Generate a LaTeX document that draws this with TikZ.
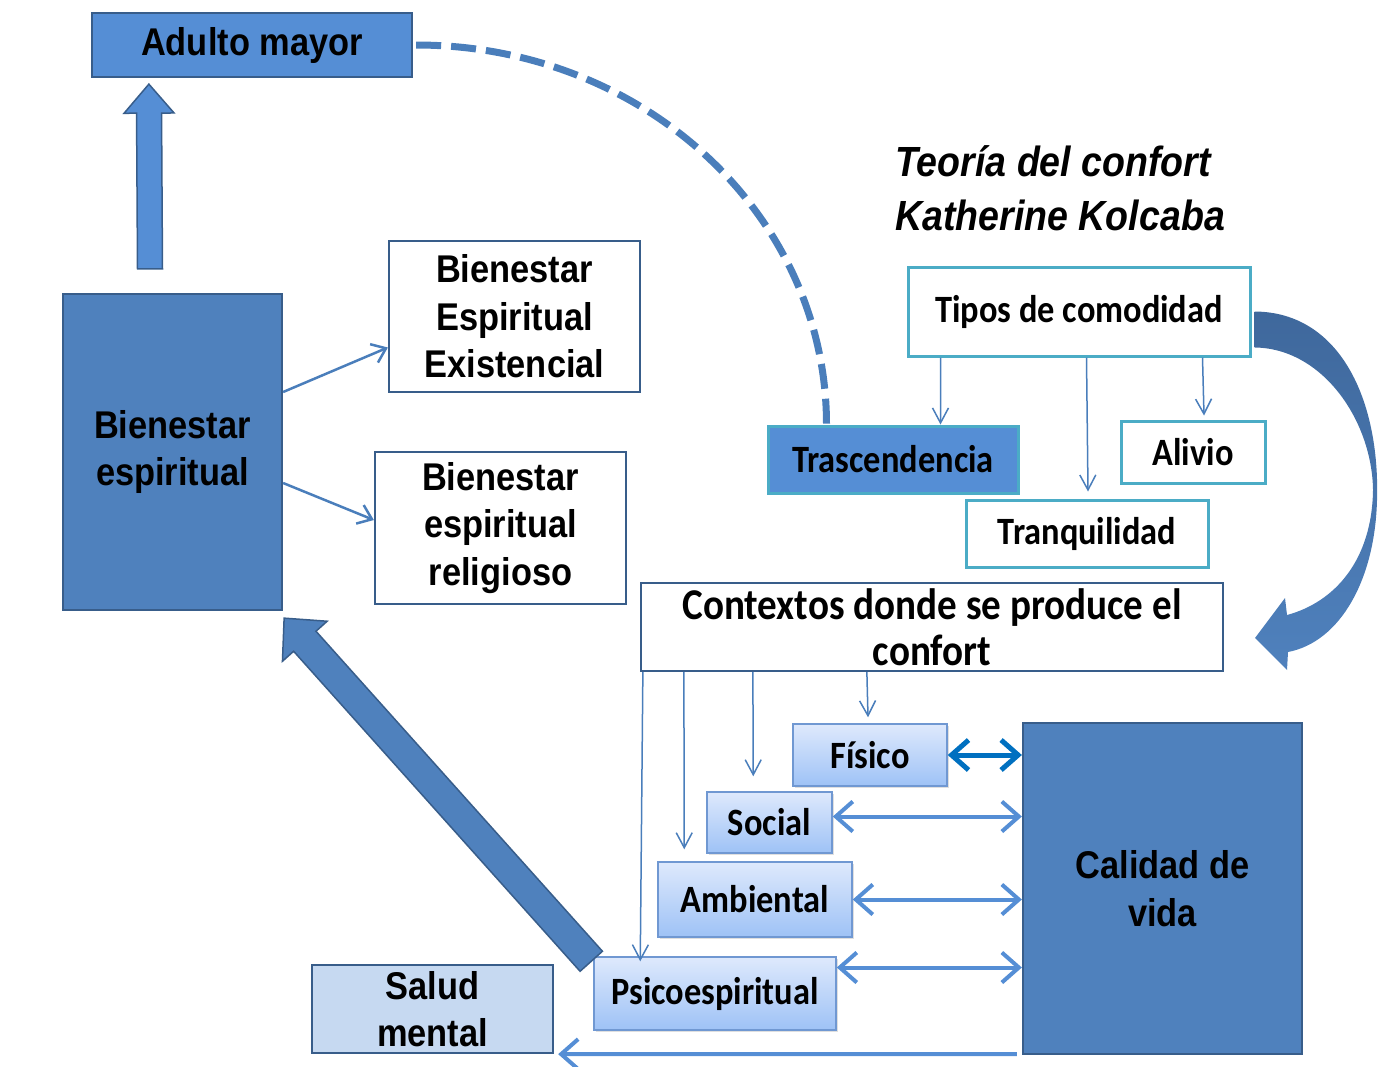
\documentclass[tikz,border=0pt]{standalone}
\usepackage{fontspec}
\setmainfont{Liberation Sans}[FakeStretch=0.89]
\newfontfamily\calibri{Carlito}[FakeStretch=0.89]
\usetikzlibrary{arrows.meta,calc,shadows}

\definecolor{azul}{RGB}{85,142,213}
\definecolor{azulosc}{RGB}{79,129,189}
\definecolor{borde}{RGB}{56,93,138}
\definecolor{turq}{RGB}{75,172,198}
\definecolor{flecha}{RGB}{74,126,187}
\definecolor{claro}{RGB}{198,217,241}
\definecolor{grarriba}{RGB}{222,233,252}
\definecolor{grabajo}{RGB}{158,194,246}
\definecolor{grborde}{RGB}{112,152,210}
\definecolor{fisflecha}{RGB}{0,112,192}
\definecolor{curvaosc}{RGB}{63,104,156}

\begin{document}
\begin{tikzpicture}[x=0.2mm,y=-0.2mm]
        \tikzset{block/.style={draw=borde,
                line width=0.45mm,
                shape=rectangle,
                align=center,
                inner sep=0pt,
                font=\bfseries\fontsize{22}{27}\selectfont
            },
            darkblock/.style={block, fill=azulosc},
            whiteblock/.style={block, fill=white},
            tealblock/.style={block, draw=turq, line width=0.6mm, fill=white,
                font=\calibri\bfseries\fontsize{22}{27}\selectfont},
            gradblock/.style={block, draw=grborde, line width=0.3mm,
                top color=grarriba, bottom color=grabajo,
                drop shadow={opacity=0.25, shadow xshift=1.2pt, shadow yshift=-1.2pt},
                font=\calibri\bfseries\fontsize{22}{27}\selectfont},
            thinarrow/.style={color=flecha, line width=0.3mm,
                -{Straight Barb[length=3mm,width=3.2mm]}},
            midarrow/.style={color=flecha, line width=0.5mm,
                -{Straight Barb[length=2.6mm,width=4mm]}},
            dblarrow/.style={draw=azul, line width=0.8mm,
                {Straight Barb[length=3.4mm,width=6mm]}-{Straight Barb[length=3.4mm,width=6mm]}},
            fatarrow/.style={draw=borde, line width=0.3mm, fill=azulosc},
        }
\useasboundingbox (0,0) rectangle (1389,1066);

        \node [block, fill=azul, minimum width=64mm, minimum height=12.8mm] (adulto)
            at (252,45) {Adulto mayor};
        \node [darkblock, minimum width=43.8mm, minimum height=63.2mm] (bienestar)
            at (172.5,452) {Bienestar\\espiritual};
        \node [whiteblock, minimum width=50.2mm, minimum height=30.2mm] (existencial)
            at (514.5,316.5) {Bienestar\\Espiritual\\Existencial};
        \node [whiteblock, minimum width=50.2mm, minimum height=30.4mm] (religioso)
            at (500.5,528) {Bienestar\\espiritual\\religioso};
        \node [anchor=west, align=left, inner sep=0pt,
               font=\bfseries\itshape\fontsize{24}{31}\selectfont] (teoria)
            at (895,188) {Teoría del confort\\Katherine Kolcaba};
        \node [tealblock, minimum width=68.4mm, minimum height=17.8mm] (tipos)
            at (1079,311.5) {Tipos de comodidad};
        \node [tealblock, fill=azul, minimum width=50mm, minimum height=13.4mm] (trasc)
            at (893,459.5) {Trascendencia};
        \node [tealblock, minimum width=28.8mm, minimum height=12.4mm] (alivio)
            at (1193,452) {Alivio};
        \node [tealblock, minimum width=48.4mm, minimum height=13.4mm] (tranq)
            at (1087,533.5) {Tranquilidad};
        \node [whiteblock, minimum width=116.4mm, minimum height=17.6mm,
               font=\calibri\bfseries\fontsize{25}{26}\selectfont] (contextos)
            at (932,627) {Contextos donde se produce el\\confort};
        \node [gradblock, minimum width=30.8mm, minimum height=12.4mm] (fisico)
            at (870,755) {Físico};
        \node [gradblock, minimum width=25mm, minimum height=12.2mm] (social)
            at (769.5,822.5) {Social};
        \node [gradblock, minimum width=38.8mm, minimum height=15mm] (ambiental)
            at (755,899.5) {Ambiental};
        \node [gradblock, minimum width=48.4mm, minimum height=14.6mm] (psico)
            at (715,993.5) {Psicoespiritual};
        \node [darkblock, minimum width=55.8mm, minimum height=66.2mm] (calidad)
            at (1162.5,888.5) {Calidad de\\vida};
        \node [block, fill=claro, minimum width=48.2mm, minimum height=17.6mm] (salud)
            at (432.5,1009) {Salud\\mental};

%% fat arrows
\coordinate (upA) at ($(bienestar.north)+(-22.5,-24)$);
\coordinate (upB) at ($(adulto.south west)+(58,6)$);
\coordinate (upC) at ($(upB)!5.8mm!(upA)$);
\path[fatarrow, fill=azul]
    ($(upA)!2.5mm!90:(upB)$) -- ($(upC)!2.5mm!90:(upB)$) -- ($(upC)!5mm!90:(upB)$)
    -- (upB) -- ($(upC)!5mm!-90:(upB)$) -- ($(upC)!2.5mm!-90:(upB)$)
    -- ($(upA)!2.5mm!-90:(upB)$) -- cycle;
\coordinate (dA) at ($(psico.north west)+(-2,5)$);
\coordinate (dB) at ($(bienestar.south east)+(1,7)$);
\coordinate (dC) at ($(dB)!6.2mm!(dA)$);
\path[fatarrow]
    ($(dA)!3mm!90:(dB)$) -- ($(dC)!3mm!90:(dB)$) -- ($(dC)!6mm!90:(dB)$)
    -- (dB) -- ($(dC)!6mm!-90:(dB)$) -- ($(dC)!3mm!-90:(dB)$)
    -- ($(dA)!3mm!-90:(dB)$) -- cycle;

%% curved arrow
\coordinate (cvA) at ($(tipos.east)+(3,0)$);
\shade[top color=curvaosc, bottom color=azulosc]
    (cvA) .. controls (1340,312) and (1380,400) .. (1377,500)
    .. controls (1375,580) and (1340,642) .. (1288,652)
    -- (1287,670) -- (1255,638) -- (1285,598) -- (1287,615)
    .. controls (1335,602) and (1372,560) .. (1373,490)
    .. controls (1372,420) and (1322,348) .. ($(cvA)+(0,36)$) -- cycle;

%% dashed curve
\draw[flecha, line width=1.4mm, dash pattern=on 5mm off 2mm]
    ($(adulto.east)+(3,0)$) .. controls +(228,0) and +(0,-209)
    .. ($(trasc.north west)+(60,0)$);

%% paths
\path[midarrow]
    ($(bienestar.east)+(0,-60)$) edge ($(existencial.west)+(0,31)$)
    ($(bienestar.east)+(0,31)$) edge ($(religioso.west)+(0,-8)$)
;
\path[thinarrow]
    ($(tipos.south west)+(34,0)$) edge ($(trasc.north west)+(174,0)$)
    ($(tipos.south west)+(180,0)$) edge ($(tranq.north)+(1,-7)$)
    ($(tipos.south west)+(296,0)$) edge ($(alivio.north)+(11,-4)$)
    ($(contextos.south west)+(3,0)$) edge ($(psico.north west)+(47,5)$)
    ($(contextos.south west)+(44,0)$) edge ($(ambiental.north west)+(27,-12)$)
    ($(contextos.south west)+(113,0)$) edge ($(social.north west)+(47,-15)$)
    ($(contextos.south west)+(227,0)$) edge ($(fisico.north)+(-2,-6)$)
;
\draw[dblarrow, draw=fisflecha, line width=1mm] (fisico.east) -- (fisico.east -| calidad.west);
\draw[dblarrow] ($(social.east)+(0,-6)$) -- ($(social.east -| calidad.west)+(0,-6)$);
\draw[dblarrow] (ambiental.east) -- (ambiental.east -| calidad.west);
\draw[dblarrow] ($(psico.east)+(0,-26)$) -- ($(psico.east -| calidad.west)+(0,-26)$);
\draw[draw=azul, line width=0.8mm, -{Straight Barb[length=3.4mm,width=6mm]}]
    ($(calidad.south west)+(-5,-1)$) -- ($(salud.south east)+(4,0)$);
\end{tikzpicture}
\end{document}
